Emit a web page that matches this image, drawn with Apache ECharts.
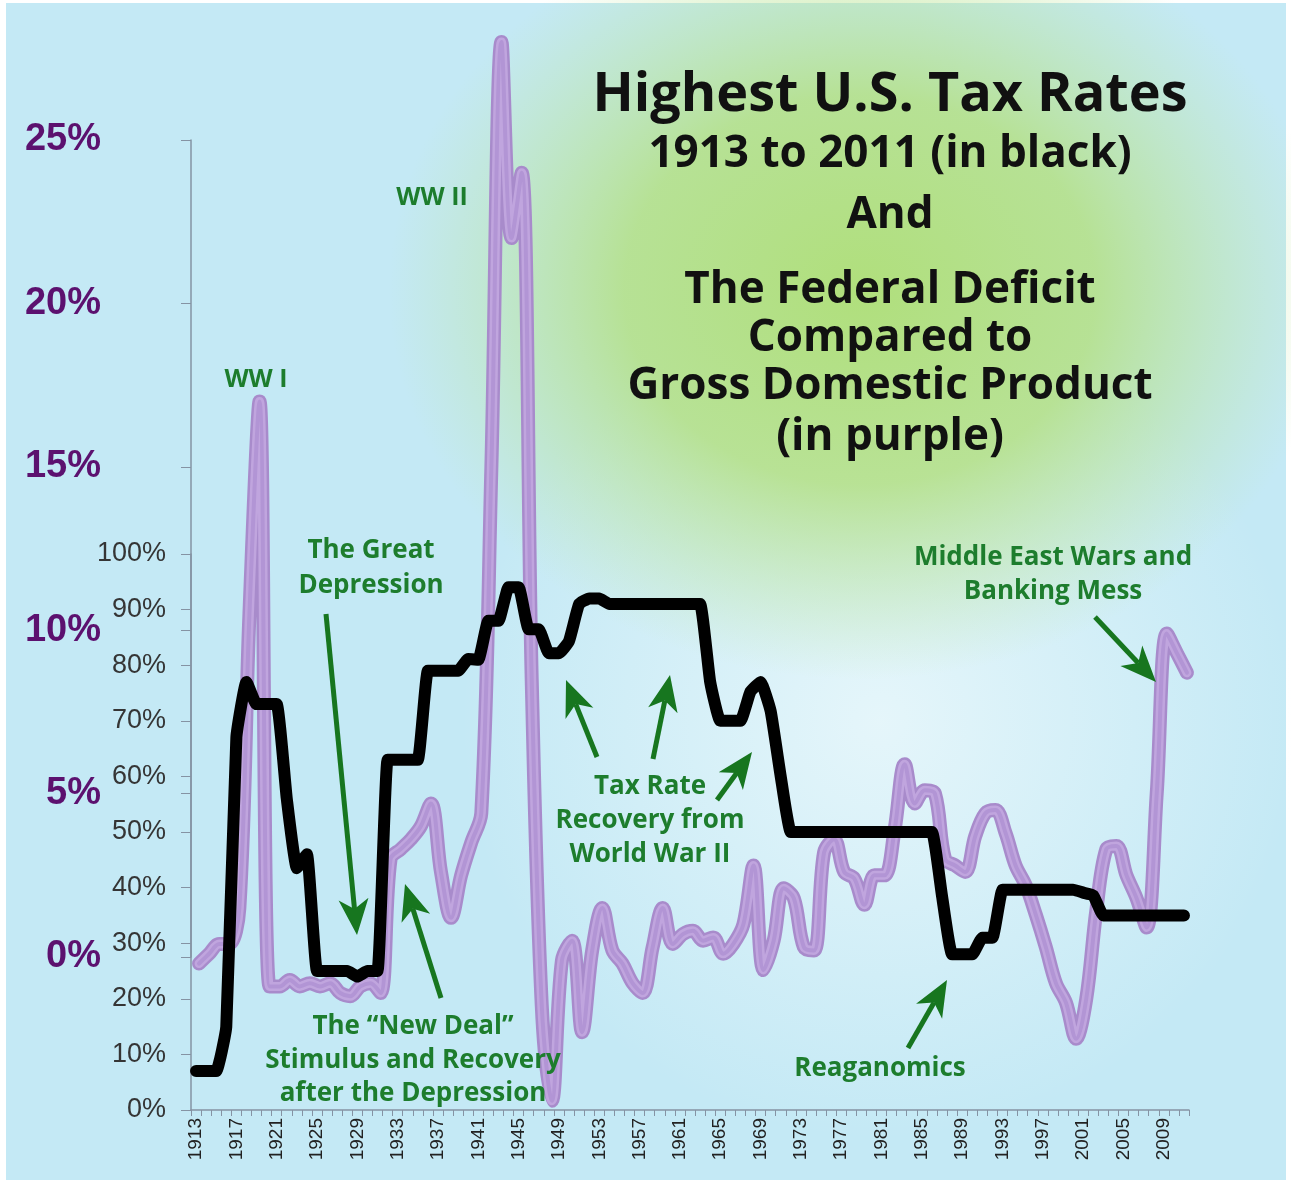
<!DOCTYPE html>
<html>
<head>
<meta charset="utf-8">
<script src="https://cdn.jsdelivr.net/npm/echarts@6/dist/echarts.min.js"></script>
<style>
  html, body { margin: 0; padding: 0; background: #ffffff; }
  #chart { width: 1291px; height: 1183px; }
</style>
</head>
<body>
<div id="chart"></div>
<script>
// Years on the horizontal axis
const years = [
  '1913','1914','1915','1916','1917','1918','1919','1920','1921','1922',
  '1923','1924','1925','1926','1927','1928','1929','1930','1931','1932',
  '1933','1934','1935','1936','1937','1938','1939','1940','1941','1942',
  '1943','1944','1945','1946','1947','1948','1949','1950','1951','1952',
  '1953','1954','1955','1956','1957','1958','1959','1960','1961','1962',
  '1963','1964','1965','1966','1967','1968','1969','1970','1971','1972',
  '1973','1974','1975','1976','1977','1978','1979','1980','1981','1982',
  '1983','1984','1985','1986','1987','1988','1989','1990','1991','1992',
  '1993','1994','1995','1996','1997','1998','1999','2000','2001','2002',
  '2003','2004','2005','2006','2007','2008','2009','2010','2011'
];

// Highest marginal income tax rate (%), black line
const topTaxRate = [
  7, 7, 7, 15, 67, 77, 73, 73, 73, 56,
  43.5, 46, 25, 25, 25, 25, 24, 25, 25, 63,
  63, 63, 63, 79, 79, 79, 79, 81.1, 81, 88,
  88, 94, 94, 86.45, 86.45, 82.13, 82.13, 84.36, 91, 92,
  92, 91, 91, 91, 91, 91, 91, 91, 91, 91,
  91, 77, 70, 70, 70, 75.25, 77, 71.75, 60, 50,
  50, 50, 50, 50, 50, 50, 50, 50, 50, 50,
  50, 50, 50, 50, 38.5, 28, 28, 28, 31, 31,
  39.6, 39.6, 39.6, 39.6, 39.6, 39.6, 39.6, 39.6, 39.1, 38.6,
  35, 35, 35, 35, 35, 35, 35, 35, 35
];

// Federal deficit as a share of GDP (%), purple line (negative = surplus)
const deficitPctGdp = [
  -0.2, 0.1, 0.4, 0.4, 1.5, 10.5, 17.0, -0.9, -0.9, -0.7,
  -0.9, -0.8, -0.9, -0.8, -1.1, -1.2, -0.9, -0.8, -1.1, 3.0,
  3.3, 3.6, 4.0, 4.7, 2.6, 1.2, 2.5, 3.5, 4.4, 15.0,
  28.0, 22.0, 24.0, 8.5, -1.5, -4.4, -0.1, 0.5, -2.3, 0.2,
  1.5, 0.2, -0.2, -0.8, -1.1, 0.3, 1.5, 0.4, 0.7, 0.8,
  0.5, 0.6, 0.1, 0.4, 1.0, 2.8, -0.4, 0.5, 2.1, 1.8,
  0.3, 0.2, 3.2, 3.6, 2.6, 2.4, 1.6, 2.5, 2.5, 3.9,
  5.9, 4.7, 5.1, 5.0, 3.0, 2.8, 2.6, 3.7, 4.4, 4.5,
  3.8, 2.8, 2.2, 1.3, 0.3, -0.8, -1.4, -2.5, -1.3, 1.4,
  3.3, 3.4, 2.5, 1.8, 0.9, 5.0, 9.9, 9.3, 8.7
];

// Axis ranges
const taxAxis = { min: 0, max: 100, step: 10 };
const deficitAxis = { min: 0, max: 25, step: 5 };

// Title block lines
const titleLines = [
  'Highest U.S. Tax Rates',
  '1913 to 2011 (in black)',
  'And',
  'The Federal Deficit',
  'Compared to',
  'Gross Domestic Product',
  '(in purple)'
];

const GREEN = '#1d7d2d';
const ARROW_GREEN = '#17761f';
const SANS = '"Open Sans", "Noto Sans", sans-serif';

function arrow(x1, y1, x2, y2) {
  const dx = x2 - x1, dy = y2 - y1;
  const L = Math.hypot(dx, dy);
  const ux = dx / L, uy = dy / L, nx = -uy, ny = ux;
  const hl = 36, hw = 30, notch = 10;
  const bx = x2 - ux * hl, by = y2 - uy * hl;
  const mx = x2 - ux * (hl - notch), my = y2 - uy * (hl - notch);
  return [
    { type: 'line', z: 50, silent: true,
      shape: { x1: x1, y1: y1, x2: mx, y2: my },
      style: { stroke: ARROW_GREEN, lineWidth: 5 } },
    { type: 'polygon', z: 50, silent: true,
      shape: { points: [[x2, y2], [bx + nx * hw / 2, by + ny * hw / 2], [mx, my], [bx - nx * hw / 2, by - ny * hw / 2]] },
      style: { fill: ARROW_GREEN } }
  ];
}

function label(text, x, y, size, weight, color) {
  return {
    type: 'text', z: 60, silent: true,
    style: {
      text: text, x: x, y: y,
      textAlign: 'center', textVerticalAlign: 'middle',
      font: weight + ' ' + size + 'px ' + SANS,
      fill: color
    }
  };
}

const graphics = [
  // panel background
  { type: 'rect', z: -30, silent: true,
    shape: { x: 6, y: 3, width: 1280, height: 1177 },
    style: { fill: '#c4e9f5' } },
  // pale haze in the lower middle
  { type: 'circle', z: -25, silent: true,
    shape: { cx: 880, cy: 720, r: 420 },
    style: { fill: new echarts.graphic.RadialGradient(0.5, 0.5, 0.5, [
      { offset: 0, color: 'rgba(240,250,252,0.75)' },
      { offset: 1, color: 'rgba(240,250,252,0)' }
    ]) } },
  // green glow behind the title
  { type: 'circle', z: -20, silent: true,
    x: 860, y: 290, scaleX: 1.15, scaleY: 0.95,
    shape: { cx: 0, cy: 0, r: 410 },
    style: { fill: new echarts.graphic.RadialGradient(0.5, 0.5, 0.5, [
      { offset: 0, color: 'rgba(176,223,124,1)' },
      { offset: 0.5, color: 'rgba(180,224,132,0.85)' },
      { offset: 1, color: 'rgba(190,230,160,0)' }
    ]) } }
];

// title block
const titleY = [96, 154, 215, 290, 338, 386, 437];
const titleSize = [54, 44, 44, 44, 44, 44, 44];
titleLines.forEach(function (t, i) {
  graphics.push(label(t, 890, titleY[i], titleSize[i], 'bold', '#111111'));
});

// annotations
[
  ['WW I', 256, 380, 25],
  ['WW II', 432, 198, 25],
  ['The Great', 371, 551, 26],
  ['Depression', 371, 586, 26],
  ['The \u201cNew Deal\u201d', 413, 1027, 26],
  ['Stimulus and Recovery', 413, 1061, 26],
  ['after the Depression', 413, 1094, 26],
  ['Tax Rate', 650, 787, 26],
  ['Recovery from', 650, 821, 26],
  ['World War II', 650, 855, 26],
  ['Middle East Wars and', 1053, 558, 26],
  ['Banking Mess', 1053, 592, 26],
  ['Reaganomics', 880, 1069, 26]
].forEach(function (a) {
  graphics.push(label(a[0], a[1], a[2], a[3], 'bold', GREEN));
});

[
  [326, 614, 357, 935],
  [441, 998, 405, 884],
  [597, 757, 566, 680],
  [653, 759, 670, 675],
  [717, 800, 752, 752],
  [1095, 617, 1156, 682],
  [908, 1048, 947, 980]
].forEach(function (p) {
  graphics.push.apply(graphics, arrow(p[0], p[1], p[2], p[3]));
});

const axisGray = '#8593a3';

const option = {
  animation: false,
  backgroundColor: '#ffffff',
  grid: [
    { left: 191, top: 554, width: 998, height: 556 },
    { left: 194, top: 140, width: 998, height: 817 }
  ],
  xAxis: [
    {
      gridIndex: 0, type: 'category', data: years, boundaryGap: true,
      axisLine: { lineStyle: { color: axisGray, width: 1.5 } },
      axisTick: { show: true, interval: 0, length: 6, lineStyle: { color: axisGray } },
      axisLabel: { interval: 3, rotate: 90, margin: 8, fontSize: 19,
        fontFamily: '"Liberation Sans", Arial, sans-serif', color: '#222222' },
      splitLine: { show: false }
    },
    { gridIndex: 1, type: 'category', data: years, boundaryGap: true, show: false }
  ],
  yAxis: [
    {
      gridIndex: 0, type: 'value', position: 'left',
      min: taxAxis.min, max: taxAxis.max, interval: taxAxis.step,
      axisLine: { show: true, lineStyle: { color: axisGray, width: 1.5 } },
      axisTick: { show: true, length: 10, lineStyle: { color: axisGray } },
      splitLine: { show: false },
      axisLabel: { formatter: '{value}%', margin: 25, fontSize: 27,
        fontFamily: '"Liberation Sans", Arial, sans-serif', color: '#353535' }
    },
    {
      gridIndex: 1, type: 'value', position: 'left', offset: 3,
      min: deficitAxis.min, max: deficitAxis.max, interval: deficitAxis.step,
      axisLine: { show: true, lineStyle: { color: axisGray, width: 1.5 } },
      axisTick: { show: true, length: 10, lineStyle: { color: axisGray } },
      splitLine: { show: false },
      axisLabel: { formatter: '{value}%', margin: 90, fontSize: 38, fontWeight: 'bold',
        fontFamily: '"Liberation Sans", Arial, sans-serif', color: '#5c116f' }
    }
  ],
  series: [
    {
      type: 'line', xAxisIndex: 1, yAxisIndex: 1, data: deficitPctGdp,
      smooth: 0.35, symbol: 'none', clip: false, z: 2, silent: true,
      lineStyle: { width: 14, color: '#a88bcb', cap: 'round', join: 'round' }
    },
    {
      type: 'line', xAxisIndex: 1, yAxisIndex: 1, data: deficitPctGdp,
      smooth: 0.35, symbol: 'none', clip: false, z: 3, silent: true,
      lineStyle: { width: 9, color: '#c0a5de', cap: 'round', join: 'round' }
    },
    {
      type: 'line', xAxisIndex: 1, yAxisIndex: 1, data: deficitPctGdp,
      smooth: 0.35, symbol: 'none', clip: false, z: 4, silent: true,
      lineStyle: { width: 4, color: '#b295d5', cap: 'round', join: 'round' }
    },
    {
      type: 'line', xAxisIndex: 0, yAxisIndex: 0, data: topTaxRate,
      smooth: 0.12, symbol: 'none', clip: false, z: 6, silent: true,
      lineStyle: { width: 12, color: '#000000', cap: 'round', join: 'round' }
    }
  ],
  graphic: { elements: graphics }
};

const chart = echarts.init(document.getElementById('chart'), null, { renderer: 'canvas' });
chart.setOption(option);
</script>
</body>
</html>
